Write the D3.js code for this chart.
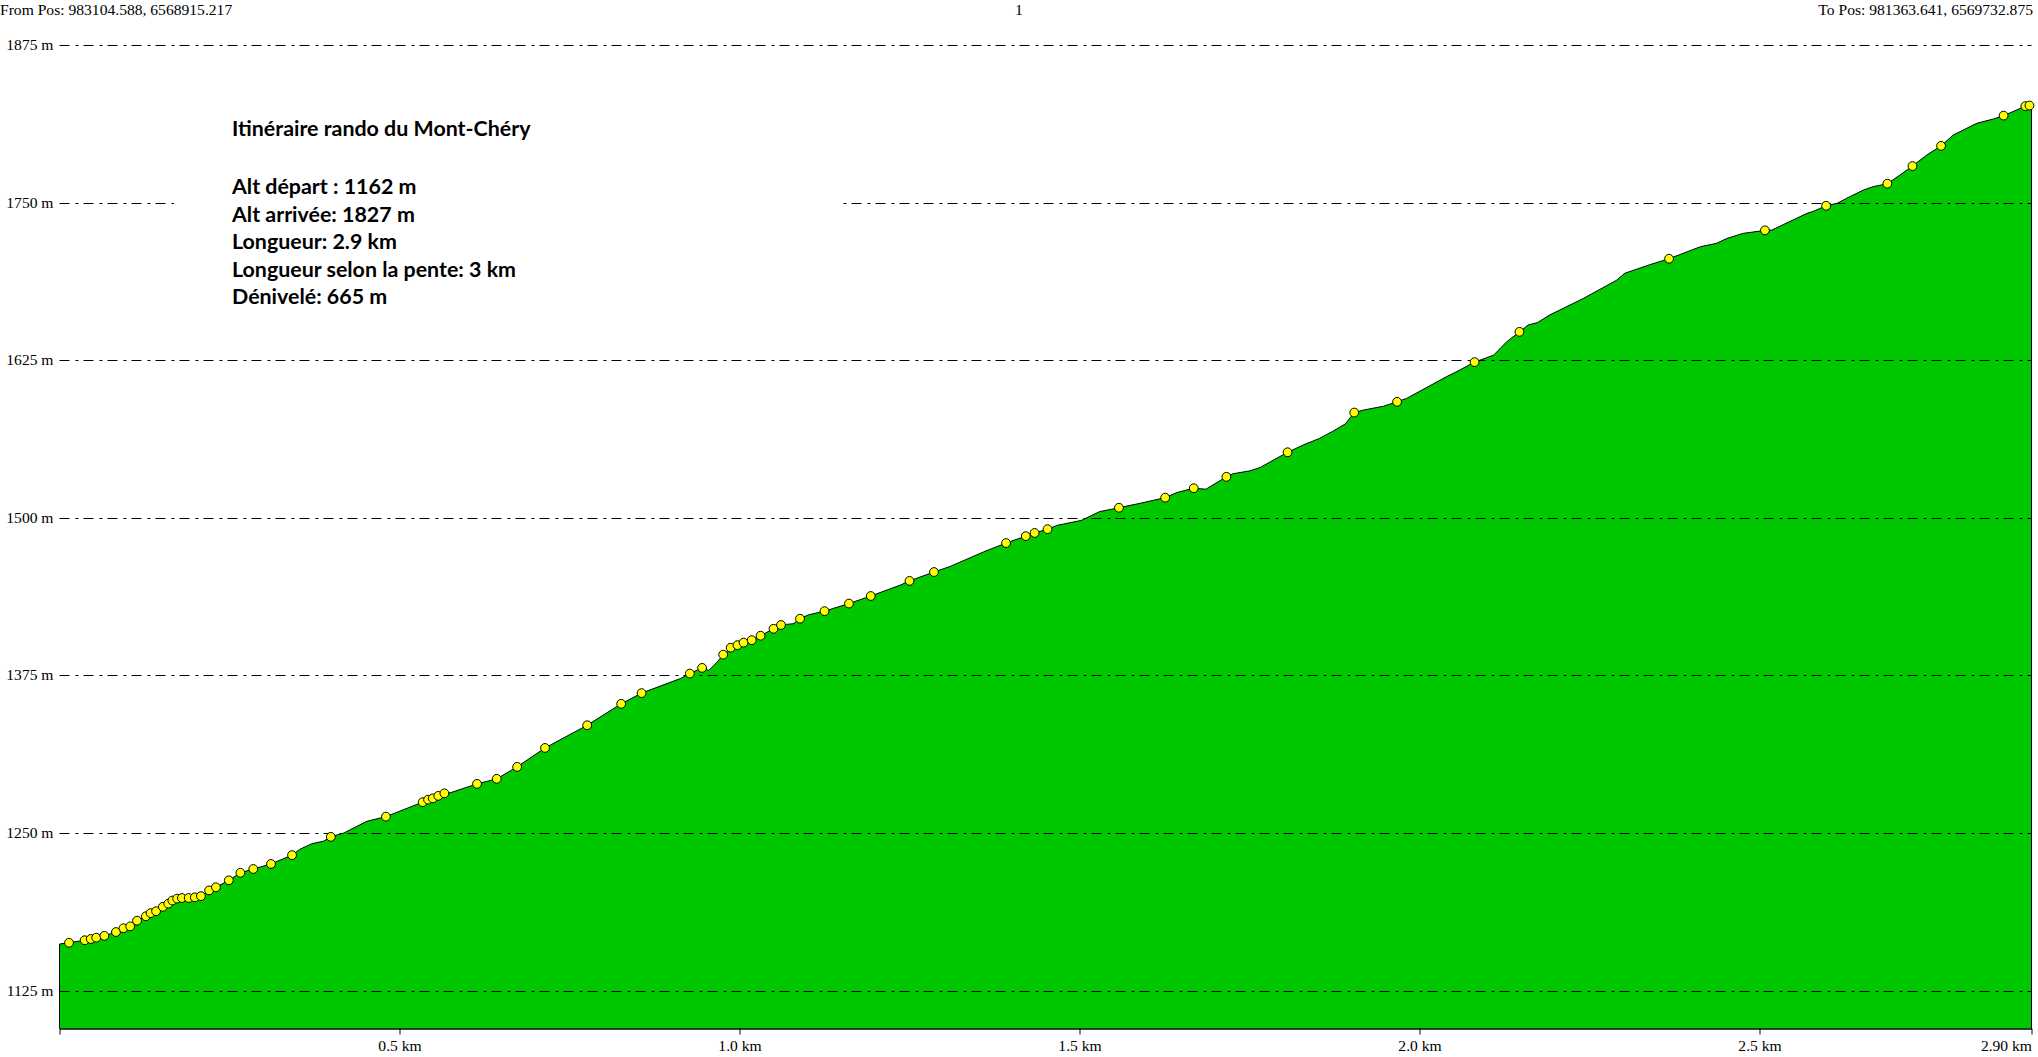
<!DOCTYPE html>
<html>
<head>
<meta charset="utf-8">
<script src="https://cdn.jsdelivr.net/npm/d3@7"></script>
<style>
  html, body { margin: 0; padding: 0; background: #ffffff; overflow: hidden; }
  svg { display: block; }
</style>
</head>
<body>
<svg id="chart" width="2038" height="1057"></svg>
<script>
// ---------- DATA ----------
const headerLeft = "From Pos: 983104.588, 6568915.217";
const headerCenter = "1";
const headerRight = "To Pos: 981363.641, 6569732.875";

const infoTitle = "Itinéraire rando du Mont-Chéry";
const infoLines = [
  "Alt départ : 1162 m",
  "Alt arrivée: 1827 m",
  "Longueur: 2.9 km",
  "Longueur selon la pente: 3 km",
  "Dénivelé: 665 m"
];

const altTicks = [1125, 1250, 1375, 1500, 1625, 1750, 1875];
const distTicks = [0, 0.5, 1.0, 1.5, 2.0, 2.5, 2.90];
const distTickLabels = ["", "0.5 km", "1.0 km", "1.5 km", "2.0 km", "2.5 km", "2.90 km"];

// waypoints (yellow dots): distance km, altitude m
const wpDist = [0.014,0.037,0.046,0.054,0.066,0.083,0.094,0.104,0.114,0.127,0.134,0.142,0.152,0.160,0.166,0.173,0.180,0.190,0.199,0.208,0.220,0.230,0.249,0.266,0.285,0.311,0.342,0.399,0.480,0.534,0.542,0.549,0.557,0.566,0.614,0.643,0.673,0.714,0.776,0.826,0.856,0.927,0.945,0.976,0.987,0.997,1.006,1.018,1.031,1.050,1.061,1.089,1.125,1.161,1.193,1.250,1.286,1.392,1.421,1.434,1.453,1.558,1.626,1.668,1.716,1.806,1.904,1.967,2.081,2.147,2.367,2.508,2.598,2.688,2.725,2.767,2.859,2.891,2.897];
const wpAlt  = [1163,1165,1166,1167,1168.5,1171.5,1174.5,1176,1180.5,1184,1186.5,1188,1191.5,1194,1196.5,1198,1198.5,1198.5,1199,1200,1204.5,1207,1212.5,1218.5,1221.5,1225.5,1232.5,1247,1263,1274.5,1276.5,1277.5,1279.5,1281.5,1289,1293,1302.5,1317.5,1335.5,1352.5,1361,1376.5,1381,1391.5,1397,1399,1401,1403,1406.5,1412,1415,1420,1426,1432,1438,1450,1457,1480,1485.5,1488,1491,1508,1516,1523.5,1532.5,1552,1583.5,1592,1623.5,1647.5,1705.5,1728,1747.5,1765,1779,1795,1819,1826.5,1827];

// extra profile vertices between waypoints
const prDist = [0.000,0.353,0.371,0.388,0.418,0.452,0.575,0.913,0.955,0.967,1.069,1.079,1.101,1.236,1.310,1.359,1.467,1.503,1.530,1.589,1.643,1.686,1.726,1.751,1.766,1.830,1.853,1.872,1.891,1.918,1.947,1.981,2.040,2.055,2.109,2.128,2.160,2.173,2.192,2.241,2.290,2.302,2.340,2.413,2.437,2.452,2.476,2.518,2.570,2.579,2.614,2.628,2.653,2.667,2.707,2.746,2.785,2.805,2.820,2.844,2.873,2.900];
const prAlt  = [1162,1237,1241.5,1243.5,1250,1259.3,1282,1372.5,1379,1385.5,1415.5,1416,1423,1446.5,1461.5,1473,1494,1498,1505,1511.5,1520,1522.7,1535,1537.3,1540,1558,1563,1568.5,1574.5,1585.5,1588.5,1594.7,1612,1616,1629,1639.5,1653,1654.7,1661,1674,1688.5,1694,1701,1715,1717.7,1721.6,1725.6,1728.2,1741.5,1743,1749.4,1753.4,1760,1762.6,1772,1787.7,1803.6,1809,1813,1816.3,1822.2,1827];

// ---------- BUILD ----------
const waypoints = wpDist.map((d, i) => ({ d: d, a: wpAlt[i] }));
const profile = waypoints.concat(prDist.map((d, i) => ({ d: d, a: prAlt[i] })))
  .sort((p, q) => p.d - q.d);

const svg = d3.select("#chart");
const serif = "'Liberation Serif', 'Times New Roman', serif";

const x = d3.scaleLinear().domain([0, 2.90]).range([59.5, 2031.5]);
const y = d3.scaleLinear().domain([1095, 1875]).range([1028.5, 45]);
const baseY = y(1095);

// area
svg.append("path")
  .datum(profile)
  .attr("fill", "#00c800")
  .attr("d", d3.area().x(p => x(p.d)).y0(baseY).y1(p => y(p.a)));

// grid lines
svg.append("g").selectAll("line").data(altTicks).join("line")
  .attr("x1", x(0)).attr("x2", x(2.90))
  .attr("y1", v => Math.round(y(v)) + 0.5).attr("y2", v => Math.round(y(v)) + 0.5)
  .attr("stroke", "#000").attr("stroke-width", 1)
  .attr("stroke-dasharray", "10,6,3,5");

// info box (white background interrupting grid lines)
svg.append("rect").attr("x", 174).attr("y", 62).attr("width", 668).attr("height", 280).attr("fill", "#fff");

// profile outline
const first = profile[0], last = profile[profile.length - 1];
const outline = [{ d: first.d, a: 1095 }].concat(profile, [{ d: last.d, a: 1095 }]);
svg.append("path")
  .datum(outline)
  .attr("fill", "none").attr("stroke", "#000").attr("stroke-width", 1)
  .attr("d", d3.line().x(p => x(p.d)).y(p => y(p.a)));

// waypoints
svg.append("g").selectAll("circle").data(waypoints).join("circle")
  .attr("cx", p => x(p.d)).attr("cy", p => y(p.a)).attr("r", 4.4)
  .attr("fill", "#ffff00").attr("stroke", "#000").attr("stroke-width", 1);

// y labels
svg.append("g").selectAll("text").data(altTicks).join("text")
  .attr("x", 53.5).attr("y", v => y(v) + 5)
  .attr("text-anchor", "end")
  .style("font-family", serif).style("font-size", "15.6px")
  .text(v => v + " m");

// x axis
const xAxis = svg.append("g").attr("transform", `translate(0,${baseY})`)
  .call(d3.axisBottom(x).tickValues(distTicks)
    .tickFormat((d, i) => distTickLabels[i]).tickSize(6).tickSizeOuter(0));
xAxis.select(".domain").attr("stroke", "#000").attr("stroke-width", 1.3);
xAxis.selectAll(".tick line").attr("stroke", "#000");
xAxis.selectAll(".tick text")
  .attr("y", 22).attr("dy", null)
  .style("font-family", serif).style("font-size", "15.6px").attr("fill", "#000")
  .attr("text-anchor", (d, i) => i === distTicks.length - 1 ? "end" : "middle");

// headers
svg.append("text").attr("x", 0).attr("y", 15).style("font-family", serif).style("font-size", "15.6px").text(headerLeft);
svg.append("text").attr("x", 1019).attr("y", 15).attr("text-anchor", "middle").style("font-family", serif).style("font-size", "15.6px").text(headerCenter);
svg.append("text").attr("x", 2033).attr("y", 15).attr("text-anchor", "end").style("font-family", serif).style("font-size", "15.6px").text(headerRight);

// info text
const infoFont = "Lato, 'Open Sans', sans-serif";
svg.append("text").attr("x", 232).attr("y", 136)
  .style("font-family", infoFont).style("font-weight", "bold").style("font-size", "21.4px")
  .text(infoTitle);
svg.append("g").selectAll("text").data(infoLines).join("text")
  .attr("x", 232).attr("y", (t, i) => 194 + i * 27.6)
  .style("font-family", infoFont).style("font-weight", "bold").style("font-size", "21.4px")
  .text(t => t);
</script>
</body>
</html>
